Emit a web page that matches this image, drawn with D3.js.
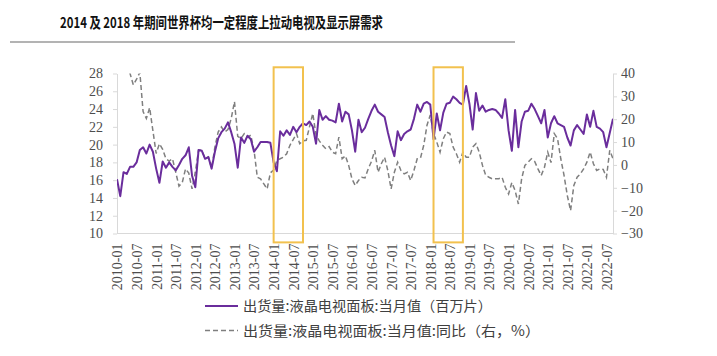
<!DOCTYPE html>
<html><head><meta charset="utf-8">
<script src="https://cdn.jsdelivr.net/npm/d3@7"></script>
<style>
html,body{margin:0;padding:0;background:#fff;}
svg{display:block;}
</style></head>
<body>
<svg id="chart" width="717" height="356"></svg>
<script>
// ---- data ----
const title = "2014 及 2018 年期间世界杯均一定程度上拉动电视及显示屏需求";
const startYear = 2010, monthCount = 153; // 2010-01 .. 2022-09
const categories = [];
for (let i = 0; i < monthCount; i++) {
  const y = startYear + Math.floor(i / 12), m = (i % 12) + 1;
  categories.push(y + "-" + (m < 10 ? "0" + m : m));
}
const tickLabels = ["2010-01","2010-07","2011-01","2011-07","2012-01","2012-07","2013-01","2013-07",
  "2014-01","2014-07","2015-01","2015-07","2016-01","2016-07","2017-01","2017-07","2018-01","2018-07",
  "2019-01","2019-07","2020-01","2020-07","2021-01","2021-07","2022-01","2022-07"];
const leftTicks = [10,12,14,16,18,20,22,24,26,28];
const rightTicks = [-30,-20,-10,0,10,20,30,40];
const shipment = [
  16.1,14.2,16.9,16.7,17.5,17.5,18.0,19.4,19.7,19.0,
  20.0,19.2,17.3,15.7,18.1,17.4,18.0,17.5,17.1,17.7,
  18.4,18.8,19.7,16.5,15.2,19.4,19.3,18.4,18.6,17.3,
  19.2,20.7,21.4,21.8,22.5,21.4,20.1,17.4,20.8,20.2,
  21.0,20.6,19.2,19.7,20.3,20.3,20.3,20.2,18.0,17.0,
  21.5,21.0,21.6,21.1,22.0,21.4,22.0,22.4,22.2,22.6,
  22.0,20.1,23.9,22.8,23.2,22.8,22.7,22.5,24.6,22.6,
  23.7,23.4,21.6,19.2,22.8,21.4,21.9,22.9,23.8,24.5,
  23.7,23.4,23.1,21.4,19.9,18.7,21.5,20.5,21.2,21.5,
  21.7,22.9,24.5,23.7,24.6,24.8,24.5,20.6,23.5,21.6,
  23.6,24.6,24.7,25.4,25.1,24.7,24.5,26.6,24.6,21.7,
  25.8,23.8,24.4,23.7,23.9,24.0,23.9,23.5,23.0,25.1,
  21.6,19.3,23.9,19.7,22.6,23.7,23.8,24.6,24.0,23.2,
  22.4,23.9,20.8,22.4,23.2,22.4,22.2,22.0,20.8,19.9,
  21.6,22.2,21.7,21.2,23.4,22.0,23.8,22.0,21.8,21.4,
  19.7,21.3,22.9];
const yoy = [
  75,60,52,45,40,35,37.5,40.5,23.3,20.3,
  25.0,15.0,5.0,9.3,6.8,2.7,1.7,2.7,-3.2,-9.3,
  -7.7,-1.7,-3.6,-10.5,-3.2,6.4,6.4,2.7,3.5,-1.4,
  7.8,14.4,16.6,14.4,15.5,20.3,27.7,12.5,11.5,13.7,
  12.2,13.0,6.4,-5.4,-6.1,-8.3,-10.5,-3.5,-2.2,2.0,
  2.7,3.4,4.9,8.6,11.1,13.7,9.3,10.5,10.8,16.7,
  22.5,13.0,10.5,8.6,7.1,8.0,5.6,4.9,12.2,2.7,
  4.0,-0.2,-6.1,-9.0,-6.8,-5.4,-5.7,-1.7,1.6,6.4,
  -3.2,0.5,3.4,-2.5,-10.5,-3.2,1.2,-2.4,-3.9,-3.2,
  -6.8,-2.4,2.7,3.0,8.6,17.4,21.8,13.7,10.0,5.6,
  11.5,14.4,13.7,7.8,4.9,1.2,5.6,3.4,3.4,7.8,
  9.3,5.6,-0.2,-4.6,-5.4,-6.1,-6.1,-6.0,-5.4,-9.8,
  -12.7,-7.7,-11.2,-17.1,-6.1,-0.2,1.2,2.7,1.5,-1.7,
  -4.6,-1.0,5.6,1.0,13.7,11.5,2.7,-4.6,-13.4,-20.0,
  -9.0,-5.4,-3.9,-1.7,1.2,5.6,0.5,-2.4,-1.7,-2.0,
  -5.4,6.4,2.7];
const seriesNames = ["出货量:液晶电视面板:当月值（百万片）", "出货量:液晶电视面板:当月值:同比（右，%）"];
const highlightFrom = ["2014-01", "2018-02"];
const highlightTo = ["2014-10", "2018-11"];

// ---- layout ----
const W = 717, H = 356;
const plot = {left: 117, right: 613, top: 73.5, bottom: 233.5};
const svg = d3.select("#chart");

const x = d3.scalePoint().domain(categories).range([plot.left, plot.right]);
const yL = d3.scaleLinear().domain([10, 28]).range([plot.bottom, plot.top]);
const yR = d3.scaleLinear().domain([-30, 40]).range([plot.bottom, plot.top]);

// title
svg.append("text").attr("x", 60).attr("y", 28)
  .attr("font-family", "'Noto Sans CJK SC', sans-serif").attr("font-weight", "bold")
  .attr("font-size", 15).attr("fill", "#111")
  .attr("textLength", 323).attr("lengthAdjust", "spacingAndGlyphs")
  .text(title);
svg.append("line").attr("x1", 10).attr("x2", 515).attr("y1", 42).attr("y2", 42)
  .attr("stroke", "#9a9a9a").attr("stroke-width", 1.5);

const serif = "'Liberation Serif', 'Times New Roman', serif";

// left axis
const gL = svg.append("g").attr("transform", `translate(${plot.left},0)`)
  .call(d3.axisLeft(yL).tickValues(leftTicks).tickSize(4).tickPadding(10).tickSizeOuter(0));
// right axis
const gR = svg.append("g").attr("transform", `translate(${plot.right},0)`)
  .call(d3.axisRight(yR).tickValues(rightTicks).tickSize(4).tickPadding(4).tickSizeOuter(0));
// bottom axis
const gB = svg.append("g").attr("transform", `translate(0,${plot.bottom})`)
  .call(d3.axisBottom(x).tickValues(tickLabels).tickSize(0).tickPadding(0).tickSizeOuter(0));
gB.select(".domain").attr("d", `M${plot.left},0H${plot.right}`);

[gL, gR, gB].forEach(g => {
  g.select(".domain").attr("stroke", "#d9d9d9").attr("stroke-width", 1);
  g.selectAll(".tick line").attr("stroke", "#d9d9d9");
  g.selectAll("text").attr("font-family", serif).attr("font-size", 14).attr("fill", "#4d4d4d");
});
gB.selectAll(".tick text")
  .attr("transform", "rotate(-90)")
  .attr("text-anchor", "end")
  .attr("x", -10).attr("y", 0).attr("dy", "0.35em");

// clip
svg.append("defs").append("clipPath").attr("id", "clip")
  .append("rect").attr("x", plot.left).attr("y", plot.top)
  .attr("width", plot.right - plot.left).attr("height", plot.bottom - plot.top);

const lineL = d3.line().x((d, i) => x(categories[i])).y(d => yL(d));
const lineR = d3.line().x((d, i) => x(categories[i])).y(d => yR(d));

svg.append("path").datum(yoy).attr("clip-path", "url(#clip)")
  .attr("d", lineR).attr("fill", "none").attr("stroke", "#7f7f7f")
  .attr("stroke-width", 1.5).attr("stroke-dasharray", "5,3");

svg.append("path").datum(shipment).attr("clip-path", "url(#clip)")
  .attr("d", lineL).attr("fill", "none").attr("stroke", "#6a2d9c")
  .attr("stroke-width", 2).attr("stroke-linejoin", "round");

// highlight boxes
highlightFrom.forEach((f, i) => {
  const x0 = x(f), x1 = x(highlightTo[i]);
  svg.append("rect").attr("x", x0).attr("y", yL(28.7))
    .attr("width", x1 - x0).attr("height", yL(9.0) - yL(28.7))
    .attr("fill", "none").attr("stroke", "#f2c14e").attr("stroke-width", 2);
});

// legend
const legend = svg.append("g");
const legY = [306, 330.5];
const legLen = [249, 297];
seriesNames.forEach((name, i) => {
  legend.append("line").attr("x1", 205).attr("x2", 238).attr("y1", legY[i]).attr("y2", legY[i])
    .attr("stroke", i === 0 ? "#6a2d9c" : "#7f7f7f")
    .attr("stroke-width", i === 0 ? 2 : 1.5)
    .attr("stroke-dasharray", i === 0 ? null : "5,3");
  legend.append("text").attr("x", 243).attr("y", legY[i] + 5)
    .attr("font-family", "'Noto Sans CJK SC', sans-serif").attr("font-size", 14)
    .attr("fill", "#404040")
    .attr("textLength", legLen[i]).attr("lengthAdjust", "spacingAndGlyphs")
    .text(name);
});
</script>
</body></html>
